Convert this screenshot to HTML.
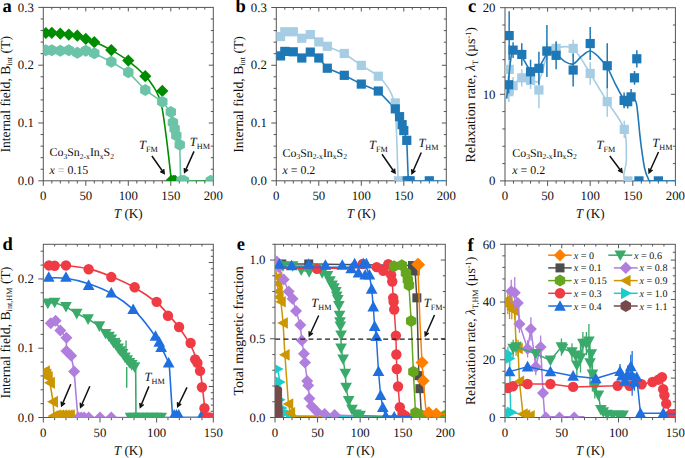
<!DOCTYPE html>
<html><head><meta charset="utf-8"><title>figure</title>
<style>
html,body{margin:0;padding:0;background:#fff;width:685px;height:458px;overflow:hidden}
svg{display:block;text-rendering:geometricPrecision}
.t{font-family:"Liberation Serif",serif;font-size:12.8px;fill:#111}
.L{font-family:"Liberation Serif",serif;font-weight:bold;font-size:18.5px;fill:#000}
</style></head><body>
<svg width="685" height="458" viewBox="0 0 685 458">
<defs><clipPath id="ca"><rect x="43.3" y="7.4" width="170" height="173.4"/></clipPath><clipPath id="cb"><rect x="276.3" y="7.5" width="170" height="173.3"/></clipPath><clipPath id="cc"><rect x="505" y="7.7" width="170.4" height="173.2"/></clipPath><clipPath id="cd"><rect x="43.3" y="244.3" width="170" height="173.2"/></clipPath><clipPath id="ce"><rect x="275" y="244.3" width="170.3" height="173.2"/></clipPath><clipPath id="cf"><rect x="505" y="244.3" width="170.3" height="173.2"/></clipPath></defs>
<rect width="685" height="458" fill="#fff"/>
<rect x="43.3" y="7.4" width="170" height="173.4" fill="none" stroke="#555" stroke-width="1"/><path d="M43.3,180.8v5M51.8,180.8v2.7M51.8,7.4v2.2M60.3,180.8v2.7M60.3,7.4v2.2M68.8,180.8v2.7M68.8,7.4v2.2M77.3,180.8v2.7M77.3,7.4v2.2M85.8,180.8v5M85.8,7.4v4M94.3,180.8v2.7M94.3,7.4v2.2M102.8,180.8v2.7M102.8,7.4v2.2M111.3,180.8v2.7M111.3,7.4v2.2M119.8,180.8v2.7M119.8,7.4v2.2M128.3,180.8v5M128.3,7.4v4M136.8,180.8v2.7M136.8,7.4v2.2M145.3,180.8v2.7M145.3,7.4v2.2M153.8,180.8v2.7M153.8,7.4v2.2M162.3,180.8v2.7M162.3,7.4v2.2M170.8,180.8v5M170.8,7.4v4M179.3,180.8v2.7M179.3,7.4v2.2M187.8,180.8v2.7M187.8,7.4v2.2M196.3,180.8v2.7M196.3,7.4v2.2M204.8,180.8v2.7M204.8,7.4v2.2M213.3,180.8v5M43.3,180.8h-5M43.3,169.24h-2.7M213.3,169.24h-2.5M43.3,157.68h-2.7M213.3,157.68h-2.5M43.3,146.12h-2.7M213.3,146.12h-2.5M43.3,134.56h-2.7M213.3,134.56h-2.5M43.3,123h-5M213.3,123h-4.5M43.3,111.44h-2.7M213.3,111.44h-2.5M43.3,99.88h-2.7M213.3,99.88h-2.5M43.3,88.32h-2.7M213.3,88.32h-2.5M43.3,76.76h-2.7M213.3,76.76h-2.5M43.3,65.2h-5M213.3,65.2h-4.5M43.3,53.64h-2.7M213.3,53.64h-2.5M43.3,42.08h-2.7M213.3,42.08h-2.5M43.3,30.52h-2.7M213.3,30.52h-2.5M43.3,18.96h-2.7M213.3,18.96h-2.5M43.3,7.4h-5" stroke="#555" stroke-width="1" fill="none"/><text x="43.3" y="200.2" text-anchor="middle" class="t">0</text><text x="85.8" y="200.2" text-anchor="middle" class="t">50</text><text x="128.3" y="200.2" text-anchor="middle" class="t">100</text><text x="170.8" y="200.2" text-anchor="middle" class="t">150</text><text x="213.3" y="200.2" text-anchor="middle" class="t">200</text><text x="33.8" y="185" text-anchor="end" class="t">0.0</text><text x="33.8" y="127.2" text-anchor="end" class="t">0.1</text><text x="33.8" y="69.4" text-anchor="end" class="t">0.2</text><text x="33.8" y="11.6" text-anchor="end" class="t">0.3</text><text x="128.3" y="218.3" text-anchor="middle" class="t" style="font-size:13.2px"><tspan font-style="italic">T</tspan> (K)</text><text transform="translate(9.8,94.3) rotate(-90)" text-anchor="middle" class="t" style="font-size:13.7px">Internal field, B<tspan style="font-size:8.2px" dy="2.6">int</tspan><tspan dy="-2.6"> (T)</tspan></text><text x="2.4" y="11.9" class="L">a</text><g clip-path="url(#ca)"><polyline points="45.85,50.17 51.8,50.17 60.3,50.75 68.8,50.17 77.3,52.77 85.8,50.75 94.3,53.35 111.3,61.73 128.3,72.14 145.3,90.05 162.3,101.79 170.8,112.02 172.93,122.42 174.62,128.78 176.32,135.43 179.73,144.68 180.66,180.8 213.3,180.8" fill="none" stroke="#6cc4a8" stroke-width="1.6" stroke-linejoin="round"/><path d="M45.85,32.54 C48.26,32.69 55.06,32.83 60.3,33.41 C65.54,33.99 71.63,34.61 77.3,36.01 C82.97,37.41 88.63,39.43 94.3,41.79 C99.97,44.15 105.63,46.99 111.3,50.17 C116.97,53.35 122.63,56.58 128.3,60.87 C133.97,65.15 141.05,71.51 145.3,75.89 C149.55,80.28 151.53,83.65 153.8,87.16 C156.07,90.68 157.48,93.33 158.9,96.99 C160.32,100.65 161.02,102.1 162.3,109.13 C163.57,116.16 165.15,128.2 166.55,139.18 C167.95,150.17 169.96,168.08 170.72,175.02 C171.47,181.96 163.96,179.84 171.06,180.8 C178.15,181.76 206.26,180.8 213.3,180.8" fill="none" stroke="#008c00" stroke-width="1.6"/><polygon points="45.85,26.91 51.95,33.01 45.85,39.11 39.75,33.01" fill="#008c00"/><polygon points="51.8,26.73 57.9,32.83 51.8,38.93 45.7,32.83" fill="#008c00"/><polygon points="60.3,27.6 66.4,33.7 60.3,39.8 54.2,33.7" fill="#008c00"/><polygon points="68.8,28.47 74.9,34.57 68.8,40.67 62.7,34.57" fill="#008c00"/><polygon points="77.3,29.62 83.4,35.72 77.3,41.82 71.2,35.72" fill="#008c00"/><polygon points="85.8,32.8 91.9,38.9 85.8,45 79.7,38.9" fill="#008c00"/><polygon points="94.3,36.1 100.4,42.2 94.3,48.3 88.2,42.2" fill="#008c00"/><polygon points="111.3,43.96 117.4,50.06 111.3,56.16 105.2,50.06" fill="#008c00"/><polygon points="128.3,54.48 134.4,60.58 128.3,66.68 122.2,60.58" fill="#008c00"/><polygon points="145.3,70.08 151.4,76.18 145.3,82.28 139.2,76.18" fill="#008c00"/><polygon points="162.3,84.82 168.4,90.92 162.3,97.02 156.2,90.92" fill="#008c00"/><polygon points="171.22,174.7 177.32,180.8 171.22,186.9 165.12,180.8" fill="#008c00"/><polygon points="173.35,174.7 179.45,180.8 173.35,186.9 167.25,180.8" fill="#008c00"/><polygon points="175.05,174.7 181.15,180.8 175.05,186.9 168.95,180.8" fill="#008c00"/><polygon points="45.85,44.17 40.65,47.17 40.65,53.17 45.85,56.17 51.05,53.17 51.05,47.17" fill="#6cc4a8"/><polygon points="51.8,44.17 46.6,47.17 46.6,53.17 51.8,56.17 57,53.17 57,47.17" fill="#6cc4a8"/><polygon points="60.3,44.75 55.1,47.75 55.1,53.75 60.3,56.75 65.5,53.75 65.5,47.75" fill="#6cc4a8"/><polygon points="68.8,44.17 63.6,47.17 63.6,53.17 68.8,56.17 74,53.17 74,47.17" fill="#6cc4a8"/><polygon points="77.3,46.77 72.1,49.77 72.1,55.77 77.3,58.77 82.5,55.77 82.5,49.77" fill="#6cc4a8"/><polygon points="85.8,44.75 80.6,47.75 80.6,53.75 85.8,56.75 91,53.75 91,47.75" fill="#6cc4a8"/><polygon points="94.3,47.35 89.1,50.35 89.1,56.35 94.3,59.35 99.5,56.35 99.5,50.35" fill="#6cc4a8"/><polygon points="111.3,55.73 106.1,58.73 106.1,64.73 111.3,67.73 116.5,64.73 116.5,58.73" fill="#6cc4a8"/><polygon points="128.3,66.14 123.1,69.14 123.1,75.14 128.3,78.14 133.5,75.14 133.5,69.14" fill="#6cc4a8"/><polygon points="145.3,84.05 140.1,87.05 140.1,93.05 145.3,96.05 150.5,93.05 150.5,87.05" fill="#6cc4a8"/><polygon points="162.3,95.79 157.1,98.79 157.1,104.79 162.3,107.79 167.5,104.79 167.5,98.79" fill="#6cc4a8"/><polygon points="170.8,106.02 165.6,109.02 165.6,115.02 170.8,118.02 176,115.02 176,109.02" fill="#6cc4a8"/><polygon points="172.93,116.42 167.73,119.42 167.73,125.42 172.93,128.42 178.12,125.42 178.12,119.42" fill="#6cc4a8"/><polygon points="174.62,122.78 169.43,125.78 169.43,131.78 174.62,134.78 179.82,131.78 179.82,125.78" fill="#6cc4a8"/><polygon points="176.32,129.43 171.13,132.43 171.13,138.43 176.32,141.43 181.52,138.43 181.52,132.43" fill="#6cc4a8"/><polygon points="179.73,138.68 174.53,141.68 174.53,147.68 179.73,150.68 184.92,147.68 184.92,141.68" fill="#6cc4a8"/><polygon points="181.43,174.8 176.23,177.8 176.23,183.8 181.43,186.8 186.62,183.8 186.62,177.8" fill="#6cc4a8"/><polygon points="183.98,174.8 178.78,177.8 178.78,183.8 183.98,186.8 189.17,183.8 189.17,177.8" fill="#6cc4a8"/><polygon points="210.75,174.8 205.55,177.8 205.55,183.8 210.75,186.8 215.95,183.8 215.95,177.8" fill="#6cc4a8"/></g><text x="49.5" y="156.1" class="t" style="font-size:11.9px">Co<tspan style="font-size:7.6px" dy="2.6">3</tspan><tspan dy="-2.6">Sn</tspan><tspan style="font-size:7.6px" dy="2.6">2-x</tspan><tspan dy="-2.6">In</tspan><tspan style="font-size:7.6px" dy="2.6">x</tspan><tspan dy="-2.6">S</tspan><tspan style="font-size:7.6px" dy="2.6">2</tspan></text><text x="49.5" y="173.9" class="t" style="font-size:11.9px"><tspan font-style="italic">x</tspan> <tspan fill="#b0b0b0">=</tspan> 0.15</text><text x="139" y="148.8" class="t" style="font-size:12.5px"><tspan font-style="italic">T</tspan><tspan style="font-size:8.2px" dy="2.8">FM</tspan></text><text x="189.8" y="146.1" class="t" style="font-size:12.5px"><tspan font-style="italic">T</tspan><tspan style="font-size:8.2px" dy="2.8">HM</tspan></text><path d="M151.9,156L164.2,173.5M160.28,171.51L164.2,173.5L163.66,169.13" stroke="#111" stroke-width="1.5" fill="none" stroke-linecap="butt" stroke-linejoin="miter"/><path d="M194,151.4L184.6,172.4M184.3,168.01L184.6,172.4L188.07,169.7" stroke="#111" stroke-width="1.5" fill="none" stroke-linecap="butt" stroke-linejoin="miter"/>
<rect x="276.3" y="7.5" width="170" height="173.3" fill="none" stroke="#555" stroke-width="1"/><path d="M276.3,180.8v5M284.8,180.8v2.7M284.8,7.5v2.2M293.3,180.8v2.7M293.3,7.5v2.2M301.8,180.8v2.7M301.8,7.5v2.2M310.3,180.8v2.7M310.3,7.5v2.2M318.8,180.8v5M318.8,7.5v4M327.3,180.8v2.7M327.3,7.5v2.2M335.8,180.8v2.7M335.8,7.5v2.2M344.3,180.8v2.7M344.3,7.5v2.2M352.8,180.8v2.7M352.8,7.5v2.2M361.3,180.8v5M361.3,7.5v4M369.8,180.8v2.7M369.8,7.5v2.2M378.3,180.8v2.7M378.3,7.5v2.2M386.8,180.8v2.7M386.8,7.5v2.2M395.3,180.8v2.7M395.3,7.5v2.2M403.8,180.8v5M403.8,7.5v4M412.3,180.8v2.7M412.3,7.5v2.2M420.8,180.8v2.7M420.8,7.5v2.2M429.3,180.8v2.7M429.3,7.5v2.2M437.8,180.8v2.7M437.8,7.5v2.2M446.3,180.8v5M276.3,180.8h-5M276.3,169.25h-2.7M446.3,169.25h-2.5M276.3,157.69h-2.7M446.3,157.69h-2.5M276.3,146.14h-2.7M446.3,146.14h-2.5M276.3,134.59h-2.7M446.3,134.59h-2.5M276.3,123.03h-5M446.3,123.03h-4.5M276.3,111.48h-2.7M446.3,111.48h-2.5M276.3,99.93h-2.7M446.3,99.93h-2.5M276.3,88.37h-2.7M446.3,88.37h-2.5M276.3,76.82h-2.7M446.3,76.82h-2.5M276.3,65.27h-5M446.3,65.27h-4.5M276.3,53.71h-2.7M446.3,53.71h-2.5M276.3,42.16h-2.7M446.3,42.16h-2.5M276.3,30.61h-2.7M446.3,30.61h-2.5M276.3,19.05h-2.7M446.3,19.05h-2.5M276.3,7.5h-5" stroke="#555" stroke-width="1" fill="none"/><text x="276.3" y="200.2" text-anchor="middle" class="t">0</text><text x="318.8" y="200.2" text-anchor="middle" class="t">50</text><text x="361.3" y="200.2" text-anchor="middle" class="t">100</text><text x="403.8" y="200.2" text-anchor="middle" class="t">150</text><text x="446.3" y="200.2" text-anchor="middle" class="t">200</text><text x="266.8" y="185" text-anchor="end" class="t">0.0</text><text x="266.8" y="127.23" text-anchor="end" class="t">0.1</text><text x="266.8" y="69.47" text-anchor="end" class="t">0.2</text><text x="266.8" y="11.7" text-anchor="end" class="t">0.3</text><text x="361.3" y="218.3" text-anchor="middle" class="t" style="font-size:13.2px"><tspan font-style="italic">T</tspan> (K)</text><text transform="translate(242.5,94.4) rotate(-90)" text-anchor="middle" class="t" style="font-size:13.7px">Internal field, B<tspan style="font-size:8.2px" dy="2.6">int</tspan><tspan dy="-2.6"> (T)</tspan></text><text x="235.6" y="12.3" class="L">b</text><g clip-path="url(#cb)"><polyline points="280.55,36.56 284.8,31.76 293.3,31.76 301.8,38.23 310.3,34.59 318.8,41.93 327.3,46.32 344.3,53.48 361.3,65.38" fill="none" stroke="#a6cde3" stroke-width="1.6" stroke-linejoin="round"/><path d="M361.3,65.38 C364.13,67.19 373.77,72.41 378.3,76.24 C382.83,80.07 385.95,84.43 388.5,88.37 C391.05,92.32 392.4,95.11 393.6,99.93 C394.8,104.74 395.16,109.55 395.73,117.26 C396.29,124.96 396.6,135.55 397,146.14 C397.4,156.73 397.82,175.02 398.11,180.8 C398.39,186.58 398.6,180.8 398.7,180.8" fill="none" stroke="#a6cde3" stroke-width="1.6"/><polyline points="398.28,180.8 446.3,180.8" fill="none" stroke="#a6cde3" stroke-width="1.6" stroke-linejoin="round"/><polyline points="280.55,55.91 284.8,51.4 293.3,51.81 301.8,57.99 310.3,52.1 318.8,57.99 327.3,68.21 344.3,75.32 361.3,84.1 378.3,91.03 395.3,108.88 399.55,116.68 402.1,124.65 403.8,130.54 406.77,140.36 408.31,180.8 446.3,180.8" fill="none" stroke="#1f78b6" stroke-width="1.6" stroke-linejoin="round"/><rect x="275.95" y="31.96" width="9.2" height="9.2" fill="#a6cde3"/><rect x="280.2" y="27.16" width="9.2" height="9.2" fill="#a6cde3"/><rect x="288.7" y="27.16" width="9.2" height="9.2" fill="#a6cde3"/><rect x="297.2" y="33.63" width="9.2" height="9.2" fill="#a6cde3"/><rect x="305.7" y="29.99" width="9.2" height="9.2" fill="#a6cde3"/><rect x="314.2" y="37.33" width="9.2" height="9.2" fill="#a6cde3"/><rect x="322.7" y="41.72" width="9.2" height="9.2" fill="#a6cde3"/><rect x="339.7" y="48.88" width="9.2" height="9.2" fill="#a6cde3"/><rect x="356.7" y="60.78" width="9.2" height="9.2" fill="#a6cde3"/><rect x="373.7" y="71.64" width="9.2" height="9.2" fill="#a6cde3"/><rect x="390.7" y="98.33" width="9.2" height="9.2" fill="#a6cde3"/><rect x="393.84" y="176.2" width="9.2" height="9.2" fill="#a6cde3"/><rect x="275.95" y="51.31" width="9.2" height="9.2" fill="#1f78b6"/><rect x="280.2" y="46.8" width="9.2" height="9.2" fill="#1f78b6"/><rect x="288.7" y="47.21" width="9.2" height="9.2" fill="#1f78b6"/><rect x="297.2" y="53.39" width="9.2" height="9.2" fill="#1f78b6"/><rect x="305.7" y="47.5" width="9.2" height="9.2" fill="#1f78b6"/><rect x="314.2" y="53.39" width="9.2" height="9.2" fill="#1f78b6"/><rect x="322.7" y="63.61" width="9.2" height="9.2" fill="#1f78b6"/><rect x="339.7" y="70.72" width="9.2" height="9.2" fill="#1f78b6"/><rect x="356.7" y="79.5" width="9.2" height="9.2" fill="#1f78b6"/><rect x="373.7" y="86.43" width="9.2" height="9.2" fill="#1f78b6"/><rect x="390.7" y="104.28" width="9.2" height="9.2" fill="#1f78b6"/><rect x="394.95" y="112.08" width="9.2" height="9.2" fill="#1f78b6"/><rect x="397.5" y="120.05" width="9.2" height="9.2" fill="#1f78b6"/><rect x="399.2" y="125.94" width="9.2" height="9.2" fill="#1f78b6"/><rect x="402.17" y="135.76" width="9.2" height="9.2" fill="#1f78b6"/><rect x="402.6" y="176.2" width="9.2" height="9.2" fill="#1f78b6"/><rect x="405.57" y="176.2" width="9.2" height="9.2" fill="#1f78b6"/><rect x="424.7" y="176.2" width="9.2" height="9.2" fill="#1f78b6"/></g><text x="282.5" y="156.5" class="t" style="font-size:11.9px">Co<tspan style="font-size:7.6px" dy="2.6">3</tspan><tspan dy="-2.6">Sn</tspan><tspan style="font-size:7.6px" dy="2.6">2-x</tspan><tspan dy="-2.6">In</tspan><tspan style="font-size:7.6px" dy="2.6">x</tspan><tspan dy="-2.6">S</tspan><tspan style="font-size:7.6px" dy="2.6">2</tspan></text><text x="282.5" y="174.3" class="t" style="font-size:11.9px"><tspan font-style="italic">x</tspan> = 0.2</text><text x="369.1" y="148.8" class="t" style="font-size:12.5px"><tspan font-style="italic">T</tspan><tspan style="font-size:8.2px" dy="2.8">FM</tspan></text><text x="418.4" y="147.3" class="t" style="font-size:12.5px"><tspan font-style="italic">T</tspan><tspan style="font-size:8.2px" dy="2.8">HM</tspan></text><path d="M382,154.3L395,173M391.09,170.99L395,173L394.48,168.63" stroke="#111" stroke-width="1.5" fill="none" stroke-linecap="butt" stroke-linejoin="miter"/><path d="M421.3,152.5L412,173.5M411.68,169.11L412,173.5L415.46,170.78" stroke="#111" stroke-width="1.5" fill="none" stroke-linecap="butt" stroke-linejoin="miter"/>
<rect x="505" y="7.7" width="170.4" height="173.2" fill="none" stroke="#555" stroke-width="1"/><path d="M505,180.9v5M513.52,180.9v2.7M513.52,7.7v2.2M522.04,180.9v2.7M522.04,7.7v2.2M530.56,180.9v2.7M530.56,7.7v2.2M539.08,180.9v2.7M539.08,7.7v2.2M547.6,180.9v5M547.6,7.7v4M556.12,180.9v2.7M556.12,7.7v2.2M564.64,180.9v2.7M564.64,7.7v2.2M573.16,180.9v2.7M573.16,7.7v2.2M581.68,180.9v2.7M581.68,7.7v2.2M590.2,180.9v5M590.2,7.7v4M598.72,180.9v2.7M598.72,7.7v2.2M607.24,180.9v2.7M607.24,7.7v2.2M615.76,180.9v2.7M615.76,7.7v2.2M624.28,180.9v2.7M624.28,7.7v2.2M632.8,180.9v5M632.8,7.7v4M641.32,180.9v2.7M641.32,7.7v2.2M649.84,180.9v2.7M649.84,7.7v2.2M658.36,180.9v2.7M658.36,7.7v2.2M666.88,180.9v2.7M666.88,7.7v2.2M675.4,180.9v5M505,180.9h-5M505,163.58h-2.7M675.4,163.58h-2.5M505,146.26h-2.7M675.4,146.26h-2.5M505,128.94h-2.7M675.4,128.94h-2.5M505,111.62h-2.7M675.4,111.62h-2.5M505,94.3h-5M675.4,94.3h-4.5M505,76.98h-2.7M675.4,76.98h-2.5M505,59.66h-2.7M675.4,59.66h-2.5M505,42.34h-2.7M675.4,42.34h-2.5M505,25.02h-2.7M675.4,25.02h-2.5M505,7.7h-5" stroke="#555" stroke-width="1" fill="none"/><text x="505" y="200.3" text-anchor="middle" class="t">0</text><text x="547.6" y="200.3" text-anchor="middle" class="t">50</text><text x="590.2" y="200.3" text-anchor="middle" class="t">100</text><text x="632.8" y="200.3" text-anchor="middle" class="t">150</text><text x="675.4" y="200.3" text-anchor="middle" class="t">200</text><text x="495.5" y="185.1" text-anchor="end" class="t">0</text><text x="495.5" y="98.5" text-anchor="end" class="t">10</text><text x="495.5" y="11.9" text-anchor="end" class="t">20</text><text x="590.2" y="218.4" text-anchor="middle" class="t" style="font-size:13.2px"><tspan font-style="italic">T</tspan> (K)</text><text transform="translate(475,94.75) rotate(-90)" text-anchor="middle" class="t" style="font-size:13.9px">Relaxation rate, <tspan font-style="italic">λ</tspan><tspan style="font-size:8.2px" dy="2.6">T</tspan><tspan dy="-2.6"> (µs</tspan><tspan style="font-size:8.2px" dy="-4.5">-1</tspan><tspan dy="4.5">)</tspan></text><text x="467.9" y="11.9" class="L">c</text><g clip-path="url(#cc)"><path d="M506.7,96.03 C507.13,95.31 508.12,93.58 509.26,91.7 C510.4,89.83 511.39,87.08 513.52,84.77 C515.65,82.46 519.2,78.86 522.04,77.85 C524.88,76.84 527.72,78.28 530.56,78.71 C533.4,79.14 536.24,84.49 539.08,80.44 C541.92,76.4 544.76,59.8 547.6,54.46 C550.44,49.12 553.28,49.7 556.12,48.4 C558.96,47.1 561.8,46.67 564.64,46.67 C567.48,46.67 570.32,46.24 573.16,48.4 C576,50.57 578.84,55.47 581.68,59.66 C584.52,63.85 585.94,66.52 590.2,73.52 C594.46,80.52 601.56,92.35 607.24,101.66 C612.92,110.97 621.09,119.77 624.28,129.37 C627.47,138.97 625.84,150.66 626.41,159.25 C626.98,167.84 619.52,177.29 627.69,180.9 C635.85,184.51 667.45,180.9 675.4,180.9" fill="none" stroke="#a6cde3" stroke-width="1.6"/><line x1="509.26" y1="79.75" x2="509.26" y2="58.97" stroke="#a6cde3" stroke-width="1.5"/><line x1="508.83" y1="102.09" x2="508.83" y2="81.31" stroke="#a6cde3" stroke-width="1.5"/><line x1="513.09" y1="94.3" x2="513.09" y2="76.98" stroke="#a6cde3" stroke-width="1.5"/><line x1="521.78" y1="86.51" x2="521.78" y2="69.19" stroke="#a6cde3" stroke-width="1.5"/><line x1="530.56" y1="89.1" x2="530.56" y2="71.78" stroke="#a6cde3" stroke-width="1.5"/><line x1="538.91" y1="108.16" x2="538.91" y2="71.78" stroke="#a6cde3" stroke-width="1.5"/><line x1="546.92" y1="60.09" x2="546.92" y2="42.77" stroke="#a6cde3" stroke-width="1.5"/><line x1="556.12" y1="55.33" x2="556.12" y2="41.47" stroke="#a6cde3" stroke-width="1.5"/><line x1="573.16" y1="57.06" x2="573.16" y2="39.74" stroke="#a6cde3" stroke-width="1.5"/><line x1="590.2" y1="84.77" x2="590.2" y2="62.26" stroke="#a6cde3" stroke-width="1.5"/><line x1="607.24" y1="116.82" x2="607.24" y2="86.51" stroke="#a6cde3" stroke-width="1.5"/><line x1="624.28" y1="138.03" x2="624.28" y2="120.71" stroke="#a6cde3" stroke-width="1.5"/><rect x="504.66" y="64.76" width="9.2" height="9.2" fill="#a6cde3"/><rect x="504.23" y="87.1" width="9.2" height="9.2" fill="#a6cde3"/><rect x="508.49" y="81.04" width="9.2" height="9.2" fill="#a6cde3"/><rect x="517.18" y="73.25" width="9.2" height="9.2" fill="#a6cde3"/><rect x="525.96" y="75.84" width="9.2" height="9.2" fill="#a6cde3"/><rect x="534.31" y="85.37" width="9.2" height="9.2" fill="#a6cde3"/><rect x="542.32" y="46.83" width="9.2" height="9.2" fill="#a6cde3"/><rect x="551.52" y="43.8" width="9.2" height="9.2" fill="#a6cde3"/><rect x="568.56" y="43.8" width="9.2" height="9.2" fill="#a6cde3"/><rect x="585.6" y="68.92" width="9.2" height="9.2" fill="#a6cde3"/><rect x="602.64" y="97.06" width="9.2" height="9.2" fill="#a6cde3"/><rect x="619.68" y="124.77" width="9.2" height="9.2" fill="#a6cde3"/><rect x="623.34" y="176.3" width="9.2" height="9.2" fill="#a6cde3"/><path d="M506.7,98.63 C507.13,94.3 508.41,80.3 509.26,72.65 C510.11,65 510.82,56.63 511.82,52.73 C512.81,48.84 513.52,48.55 515.22,49.27 C516.93,49.99 519.48,53.6 522.04,57.06 C524.6,60.53 527.72,68.46 530.56,70.05 C533.4,71.64 536.24,69.33 539.08,66.59 C541.92,63.85 544.76,55.62 547.6,53.6 C550.44,51.58 553.28,53.16 556.12,54.46 C558.96,55.76 561.8,59.8 564.64,61.39 C567.48,62.98 570.32,64.86 573.16,63.99 C576,63.12 578.84,58.36 581.68,56.2 C584.52,54.03 587.36,50.86 590.2,51 C593.04,51.14 595.88,54.32 598.72,57.06 C601.56,59.8 604.4,62.84 607.24,67.45 C610.08,72.07 612.92,79.43 615.76,84.77 C618.6,90.11 621.72,96.97 624.28,99.5 C626.84,102.02 629.18,99.64 631.1,99.93 C633.01,100.22 634.65,98.7 635.78,101.23 C636.92,103.75 637.27,109.89 637.91,115.08 C638.55,120.28 639.05,127.06 639.62,132.4 C640.18,137.74 640.47,141.06 641.32,147.13 C642.17,153.19 643.59,163.58 644.73,168.78 C645.86,173.97 647,176.28 648.14,178.3 C649.27,180.32 647,180.47 651.54,180.9 C656.09,181.33 671.42,180.9 675.4,180.9" fill="none" stroke="#1f78b6" stroke-width="1.6"/><line x1="509.17" y1="59.83" x2="509.17" y2="11.34" stroke="#1f78b6" stroke-width="1.5"/><line x1="508.66" y1="93.43" x2="508.66" y2="76.11" stroke="#1f78b6" stroke-width="1.5"/><line x1="513.09" y1="57.93" x2="513.09" y2="42.34" stroke="#1f78b6" stroke-width="1.5"/><line x1="521.78" y1="65.72" x2="521.78" y2="43.21" stroke="#1f78b6" stroke-width="1.5"/><line x1="530.56" y1="83.91" x2="530.56" y2="59.66" stroke="#1f78b6" stroke-width="1.5"/><line x1="538.91" y1="84.77" x2="538.91" y2="51.87" stroke="#1f78b6" stroke-width="1.5"/><line x1="546.92" y1="76.98" x2="546.92" y2="25.02" stroke="#1f78b6" stroke-width="1.5"/><line x1="556.12" y1="69.19" x2="556.12" y2="41.47" stroke="#1f78b6" stroke-width="1.5"/><line x1="573.16" y1="86.51" x2="573.16" y2="53.6" stroke="#1f78b6" stroke-width="1.5"/><line x1="590.2" y1="60.01" x2="590.2" y2="27.1" stroke="#1f78b6" stroke-width="1.5"/><line x1="607.24" y1="88.24" x2="607.24" y2="43.21" stroke="#1f78b6" stroke-width="1.5"/><line x1="624.11" y1="108.16" x2="624.11" y2="92.57" stroke="#1f78b6" stroke-width="1.5"/><line x1="627.69" y1="108.59" x2="627.69" y2="94.73" stroke="#1f78b6" stroke-width="1.5"/><line x1="631.1" y1="104.69" x2="631.1" y2="89.1" stroke="#1f78b6" stroke-width="1.5"/><line x1="634.5" y1="84.77" x2="634.5" y2="70.92" stroke="#1f78b6" stroke-width="1.5"/><line x1="636.8" y1="67.45" x2="636.8" y2="50.13" stroke="#1f78b6" stroke-width="1.5"/><rect x="504.57" y="30.99" width="9.2" height="9.2" fill="#1f78b6"/><rect x="504.06" y="80.17" width="9.2" height="9.2" fill="#1f78b6"/><rect x="508.49" y="45.53" width="9.2" height="9.2" fill="#1f78b6"/><rect x="517.18" y="49.86" width="9.2" height="9.2" fill="#1f78b6"/><rect x="525.96" y="67.18" width="9.2" height="9.2" fill="#1f78b6"/><rect x="534.31" y="63.72" width="9.2" height="9.2" fill="#1f78b6"/><rect x="542.32" y="46.4" width="9.2" height="9.2" fill="#1f78b6"/><rect x="551.52" y="50.73" width="9.2" height="9.2" fill="#1f78b6"/><rect x="568.56" y="65.45" width="9.2" height="9.2" fill="#1f78b6"/><rect x="585.6" y="38.95" width="9.2" height="9.2" fill="#1f78b6"/><rect x="602.64" y="61.12" width="9.2" height="9.2" fill="#1f78b6"/><rect x="619.51" y="95.76" width="9.2" height="9.2" fill="#1f78b6"/><rect x="623.09" y="97.06" width="9.2" height="9.2" fill="#1f78b6"/><rect x="626.5" y="92.3" width="9.2" height="9.2" fill="#1f78b6"/><rect x="629.9" y="73.25" width="9.2" height="9.2" fill="#1f78b6"/><rect x="632.2" y="54.19" width="9.2" height="9.2" fill="#1f78b6"/><rect x="634.33" y="176.3" width="9.2" height="9.2" fill="#1f78b6"/><rect x="653.76" y="176.3" width="9.2" height="9.2" fill="#1f78b6"/></g><text x="512.3" y="156.6" class="t" style="font-size:11.9px">Co<tspan style="font-size:7.6px" dy="2.6">3</tspan><tspan dy="-2.6">Sn</tspan><tspan style="font-size:7.6px" dy="2.6">2-x</tspan><tspan dy="-2.6">In</tspan><tspan style="font-size:7.6px" dy="2.6">x</tspan><tspan dy="-2.6">S</tspan><tspan style="font-size:7.6px" dy="2.6">2</tspan></text><text x="512.3" y="174.4" class="t" style="font-size:11.9px"><tspan font-style="italic">x</tspan> = 0.2</text><text x="596.5" y="148.8" class="t" style="font-size:12.5px"><tspan font-style="italic">T</tspan><tspan style="font-size:8.2px" dy="2.8">FM</tspan></text><text x="652.3" y="146.8" class="t" style="font-size:12.5px"><tspan font-style="italic">T</tspan><tspan style="font-size:8.2px" dy="2.8">HM</tspan></text><path d="M609.8,156L622,172.3M618.02,170.43L622,172.3L621.33,167.95" stroke="#111" stroke-width="1.5" fill="none" stroke-linecap="butt" stroke-linejoin="miter"/><path d="M658.5,152L649.1,172.7M648.83,168.31L649.1,172.7L652.59,170.02" stroke="#111" stroke-width="1.5" fill="none" stroke-linecap="butt" stroke-linejoin="miter"/>
<rect x="43.3" y="244.3" width="170" height="173.2" fill="none" stroke="#555" stroke-width="1"/><path d="M43.3,417.5v5M54.63,417.5v2.7M54.63,244.3v2.2M65.97,417.5v2.7M65.97,244.3v2.2M77.3,417.5v2.7M77.3,244.3v2.2M88.63,417.5v2.7M88.63,244.3v2.2M99.97,417.5v5M99.97,244.3v4M111.3,417.5v2.7M111.3,244.3v2.2M122.63,417.5v2.7M122.63,244.3v2.2M133.97,417.5v2.7M133.97,244.3v2.2M145.3,417.5v2.7M145.3,244.3v2.2M156.63,417.5v5M156.63,244.3v4M167.97,417.5v2.7M167.97,244.3v2.2M179.3,417.5v2.7M179.3,244.3v2.2M190.63,417.5v2.7M190.63,244.3v2.2M201.97,417.5v2.7M201.97,244.3v2.2M213.3,417.5v5M43.3,417.5h-5M43.3,403.64h-2.7M43.3,389.79h-2.7M43.3,375.93h-2.7M43.3,362.08h-2.7M43.3,348.22h-5M43.3,334.36h-2.7M43.3,320.51h-2.7M43.3,306.65h-2.7M43.3,292.8h-2.7M43.3,278.94h-5M43.3,265.08h-2.7M43.3,251.23h-2.7M213.3,411.3h-2.5M213.3,405.1h-2.5M213.3,398.9h-2.5M213.3,392.7h-2.5M213.3,386.5h-4.5M213.3,380.3h-2.5M213.3,374.1h-2.5M213.3,367.9h-2.5M213.3,361.7h-2.5M213.3,355.5h-4.5M213.3,349.3h-2.5M213.3,343.1h-2.5M213.3,336.9h-2.5M213.3,330.7h-2.5M213.3,324.5h-4.5M213.3,318.3h-2.5M213.3,312.1h-2.5M213.3,305.9h-2.5M213.3,299.7h-2.5M213.3,293.5h-4.5M213.3,287.3h-2.5M213.3,281.1h-2.5M213.3,274.9h-2.5M213.3,268.7h-2.5M213.3,262.5h-4.5M213.3,256.3h-2.5M213.3,250.1h-2.5" stroke="#555" stroke-width="1" fill="none"/><text x="43.3" y="436.9" text-anchor="middle" class="t">0</text><text x="99.97" y="436.9" text-anchor="middle" class="t">50</text><text x="156.63" y="436.9" text-anchor="middle" class="t">100</text><text x="213.3" y="436.9" text-anchor="middle" class="t">150</text><text x="33.8" y="421.7" text-anchor="end" class="t">0.0</text><text x="33.8" y="352.42" text-anchor="end" class="t">0.1</text><text x="33.8" y="283.14" text-anchor="end" class="t">0.2</text><text x="128.3" y="455" text-anchor="middle" class="t" style="font-size:13.2px"><tspan font-style="italic">T</tspan> (K)</text><text transform="translate(9.8,332.5) rotate(-90)" text-anchor="middle" class="t" style="font-size:13.7px">Internal field, B<tspan style="font-size:8.2px" dy="2.6">int,HM</tspan><tspan dy="-2.6"> (T)</tspan></text><text x="2.4" y="250.1" class="L">d</text><g clip-path="url(#cd)"><path d="M46.7,265.22 C49.91,265.26 58.98,264.82 65.97,265.43 C72.96,266.04 81.08,267.05 88.63,268.89 C96.19,270.74 103.74,273.46 111.3,276.52 C118.86,279.58 126.41,282.92 133.97,287.25 C141.52,291.58 150.97,297.99 156.63,302.5 C162.3,307 164.19,310.06 167.97,314.27 C171.74,318.49 175.52,322.59 179.3,327.78 C183.08,332.98 187.8,340.31 190.63,345.45 C193.47,350.59 194.69,354.22 196.3,358.61 C197.91,363 199.23,366.81 200.27,371.78 C201.31,376.74 201.78,382.4 202.53,388.4 C203.29,394.41 204.14,402.95 204.8,407.8 C205.46,412.65 205.08,415.88 206.5,417.5 C207.92,419.12 212.17,417.5 213.3,417.5" fill="none" stroke="#ef3c44" stroke-width="1.6"/><path d="M46.7,277.9 C49.91,277.96 58.98,277.27 65.97,278.25 C72.96,279.23 81.08,281.25 88.63,283.79 C96.19,286.33 103.74,289.1 111.3,293.49 C118.86,297.88 127.36,304 133.97,310.12 C140.58,316.24 146.43,324.03 150.97,330.21 C155.5,336.38 158.22,341.75 161.17,347.18 C164.11,352.61 167.4,360.17 168.65,362.77" fill="none" stroke="#1f6fdf" stroke-width="1.6"/><polyline points="168.65,362.77 169.33,365.54 172.61,417.5 213.3,417.5" fill="none" stroke="#1f6fdf" stroke-width="1.6" stroke-linejoin="round"/><polyline points="47.83,303.33 54.63,302.5 65.97,306.65 76.73,313.58 88.07,319.12 99.4,326.05 105.63,333.67 109.03,336.44 111.3,339.21 113.57,342.68 115.83,344.76 118.1,348.22 120.37,350.99 122.63,353.76 124.9,357.23 127.17,360 129.43,362.77 131.7,364.85 134.53,366.93 135.67,369 136.01,417.5 213.3,417.5" fill="none" stroke="#3aaa6a" stroke-width="1.6" stroke-linejoin="round"/><line x1="126.03" y1="358.61" x2="126.03" y2="340.6" stroke="#3aaa6a" stroke-width="1.4"/><line x1="126.71" y1="387.71" x2="126.71" y2="366.93" stroke="#3aaa6a" stroke-width="1.4"/><line x1="119.23" y1="354.46" x2="119.23" y2="337.83" stroke="#3aaa6a" stroke-width="1.4"/><polyline points="50.78,323.28 55.65,320.79 60.3,330.42 66.42,337.83 66.42,350.99 71.18,355.84 74.13,371.5 77.87,417.5 213.3,417.5" fill="none" stroke="#b07edd" stroke-width="1.6" stroke-linejoin="round"/><polyline points="45,371.22 46.47,374.55 47.83,377.32 49.99,382.86 53.05,401.7 54.18,417.5 77.3,417.5" fill="none" stroke="#cc9600" stroke-width="1.6" stroke-linejoin="round"/><polygon points="38.95,371.22 49.95,365.17 49.95,377.27" fill="#cc9600"/><polygon points="40.42,374.55 51.42,368.5 51.42,380.6" fill="#cc9600"/><polygon points="41.78,377.32 52.78,371.27 52.78,383.37" fill="#cc9600"/><polygon points="43.94,382.86 54.94,376.81 54.94,388.91" fill="#cc9600"/><polygon points="47,401.7 58,395.65 58,407.75" fill="#cc9600"/><polygon points="47.45,416.11 58.45,410.06 58.45,422.16" fill="#cc9600"/><polygon points="50.28,415.42 61.28,409.37 61.28,421.47" fill="#cc9600"/><polygon points="53.12,415.42 64.12,409.37 64.12,421.47" fill="#cc9600"/><polygon points="55.95,415.42 66.95,409.37 66.95,421.47" fill="#cc9600"/><polygon points="58.78,415.42 69.78,409.37 69.78,421.47" fill="#cc9600"/><polygon points="61.62,415.42 72.62,409.37 72.62,421.47" fill="#cc9600"/><polygon points="63.88,415.42 74.88,409.37 74.88,421.47" fill="#cc9600"/><polygon points="50.78,317.28 56.78,323.28 50.78,329.28 44.78,323.28" fill="#b07edd"/><polygon points="55.65,314.79 61.65,320.79 55.65,326.79 49.65,320.79" fill="#b07edd"/><polygon points="60.3,324.42 66.3,330.42 60.3,336.42 54.3,330.42" fill="#b07edd"/><polygon points="66.42,331.83 72.42,337.83 66.42,343.83 60.42,337.83" fill="#b07edd"/><polygon points="66.42,344.99 72.42,350.99 66.42,356.99 60.42,350.99" fill="#b07edd"/><polygon points="71.18,349.84 77.18,355.84 71.18,361.84 65.18,355.84" fill="#b07edd"/><polygon points="74.13,365.5 80.13,371.5 74.13,377.5 68.13,371.5" fill="#b07edd"/><polygon points="78.43,411.5 84.43,417.5 78.43,423.5 72.43,417.5" fill="#b07edd"/><polygon points="81.27,411.5 87.27,417.5 81.27,423.5 75.27,417.5" fill="#b07edd"/><polygon points="84.1,411.5 90.1,417.5 84.1,423.5 78.1,417.5" fill="#b07edd"/><polygon points="88.63,411.5 94.63,417.5 88.63,423.5 82.63,417.5" fill="#b07edd"/><polygon points="99.97,411.5 105.97,417.5 99.97,423.5 93.97,417.5" fill="#b07edd"/><polygon points="111.3,411.5 117.3,417.5 111.3,423.5 105.3,417.5" fill="#b07edd"/><polygon points="47.83,309.16 53.66,298.56 42,298.56" fill="#3aaa6a"/><polygon points="54.63,308.33 60.46,297.73 48.8,297.73" fill="#3aaa6a"/><polygon points="65.97,312.48 71.8,301.88 60.14,301.88" fill="#3aaa6a"/><polygon points="76.73,319.41 82.56,308.81 70.9,308.81" fill="#3aaa6a"/><polygon points="88.07,324.95 93.9,314.35 82.24,314.35" fill="#3aaa6a"/><polygon points="99.4,331.88 105.23,321.28 93.57,321.28" fill="#3aaa6a"/><polygon points="105.63,339.5 111.46,328.9 99.8,328.9" fill="#3aaa6a"/><polygon points="109.03,342.27 114.86,331.67 103.2,331.67" fill="#3aaa6a"/><polygon points="111.3,345.04 117.13,334.44 105.47,334.44" fill="#3aaa6a"/><polygon points="113.57,348.51 119.4,337.91 107.74,337.91" fill="#3aaa6a"/><polygon points="115.83,350.59 121.66,339.99 110,339.99" fill="#3aaa6a"/><polygon points="118.1,354.05 123.93,343.45 112.27,343.45" fill="#3aaa6a"/><polygon points="120.37,356.82 126.2,346.22 114.54,346.22" fill="#3aaa6a"/><polygon points="122.63,359.59 128.46,348.99 116.8,348.99" fill="#3aaa6a"/><polygon points="124.9,363.06 130.73,352.46 119.07,352.46" fill="#3aaa6a"/><polygon points="127.17,365.83 133,355.23 121.34,355.23" fill="#3aaa6a"/><polygon points="129.43,368.6 135.26,358 123.6,358" fill="#3aaa6a"/><polygon points="131.7,370.68 137.53,360.08 125.87,360.08" fill="#3aaa6a"/><polygon points="134.53,372.76 140.36,362.16 128.7,362.16" fill="#3aaa6a"/><polygon points="130.57,423.33 136.4,412.73 124.74,412.73" fill="#3aaa6a"/><polygon points="133.97,423.33 139.8,412.73 128.14,412.73" fill="#3aaa6a"/><polygon points="138.5,423.33 144.33,412.73 132.67,412.73" fill="#3aaa6a"/><polygon points="143.03,423.33 148.86,412.73 137.2,412.73" fill="#3aaa6a"/><polygon points="147.57,423.33 153.4,412.73 141.74,412.73" fill="#3aaa6a"/><polygon points="152.1,423.33 157.93,412.73 146.27,412.73" fill="#3aaa6a"/><polygon points="156.63,423.33 162.46,412.73 150.8,412.73" fill="#3aaa6a"/><polygon points="161.17,423.33 167,412.73 155.34,412.73" fill="#3aaa6a"/><polygon points="48.74,271.24 54.57,281.84 42.91,281.84" fill="#1f6fdf"/><polygon points="65.97,271.24 71.8,281.84 60.14,281.84" fill="#1f6fdf"/><polygon points="88.63,279.35 94.46,289.95 82.8,289.95" fill="#1f6fdf"/><polygon points="111.3,286.97 117.13,297.57 105.47,297.57" fill="#1f6fdf"/><polygon points="133.17,303.39 139,313.99 127.34,313.99" fill="#1f6fdf"/><polygon points="155.5,330.2 161.33,340.8 149.67,340.8" fill="#1f6fdf"/><polygon points="159.24,336.15 165.07,346.75 153.41,346.75" fill="#1f6fdf"/><polygon points="161.17,341.35 167,351.95 155.34,351.95" fill="#1f6fdf"/><polygon points="168.65,356.94 174.48,367.54 162.82,367.54" fill="#1f6fdf"/><polygon points="174.2,408.9 180.03,419.5 168.37,419.5" fill="#1f6fdf"/><polygon points="176.47,408.9 182.3,419.5 170.64,419.5" fill="#1f6fdf"/><polygon points="178.73,408.9 184.56,419.5 172.9,419.5" fill="#1f6fdf"/><polygon points="201.97,408.9 207.8,419.5 196.14,419.5" fill="#1f6fdf"/><circle cx="48.97" cy="265.43" r="5.2" fill="#ef3c44"/><circle cx="54.63" cy="265.78" r="5.2" fill="#ef3c44"/><circle cx="65.97" cy="265.43" r="5.2" fill="#ef3c44"/><circle cx="88.63" cy="269.24" r="5.2" fill="#ef3c44"/><circle cx="111.3" cy="277.07" r="5.2" fill="#ef3c44"/><circle cx="134.65" cy="287.25" r="5.2" fill="#ef3c44"/><circle cx="156.63" cy="301.87" r="5.2" fill="#ef3c44"/><circle cx="167.97" cy="315.8" r="5.2" fill="#ef3c44"/><circle cx="179.07" cy="327.02" r="5.2" fill="#ef3c44"/><circle cx="190.63" cy="343.02" r="5.2" fill="#ef3c44"/><circle cx="195.17" cy="359.37" r="5.2" fill="#ef3c44"/><circle cx="197.43" cy="362.91" r="5.2" fill="#ef3c44"/><circle cx="200.04" cy="370.87" r="5.2" fill="#ef3c44"/><circle cx="201.97" cy="387.29" r="5.2" fill="#ef3c44"/><circle cx="204.46" cy="408.22" r="5.2" fill="#ef3c44"/><circle cx="207.07" cy="417.5" r="5.2" fill="#ef3c44"/><circle cx="209.9" cy="417.5" r="5.2" fill="#ef3c44"/></g><text x="144.6" y="380.8" class="t" style="font-size:12.5px"><tspan font-style="italic">T</tspan><tspan style="font-size:8.2px" dy="2.8">HM</tspan></text><path d="M148.9,386.4L140.3,407.3M139.87,402.92L140.3,407.3L143.69,404.49" stroke="#111" stroke-width="1.5" fill="none" stroke-linecap="butt" stroke-linejoin="miter"/><path d="M70.8,384.2L61.6,405.9M61.21,401.52L61.6,405.9L65.02,403.13" stroke="#111" stroke-width="1.5" fill="none" stroke-linecap="butt" stroke-linejoin="miter"/><path d="M89.8,386.2L80.6,407.2M80.27,402.81L80.6,407.2L84.05,404.47" stroke="#111" stroke-width="1.5" fill="none" stroke-linecap="butt" stroke-linejoin="miter"/><path d="M187,387.3L177.7,406.5M177.53,402.1L177.7,406.5L181.25,403.9" stroke="#111" stroke-width="1.5" fill="none" stroke-linecap="butt" stroke-linejoin="miter"/>
<rect x="275" y="244.3" width="170.3" height="173.2" fill="none" stroke="#555" stroke-width="1"/><path d="M275,417.5v5M283.51,417.5v2.7M283.51,244.3v2.2M292.03,417.5v2.7M292.03,244.3v2.2M300.55,417.5v2.7M300.55,244.3v2.2M309.06,417.5v2.7M309.06,244.3v2.2M317.57,417.5v5M317.57,244.3v4M326.09,417.5v2.7M326.09,244.3v2.2M334.61,417.5v2.7M334.61,244.3v2.2M343.12,417.5v2.7M343.12,244.3v2.2M351.63,417.5v2.7M351.63,244.3v2.2M360.15,417.5v5M360.15,244.3v4M368.67,417.5v2.7M368.67,244.3v2.2M377.18,417.5v2.7M377.18,244.3v2.2M385.69,417.5v2.7M385.69,244.3v2.2M394.21,417.5v2.7M394.21,244.3v2.2M402.73,417.5v5M402.73,244.3v4M411.24,417.5v2.7M411.24,244.3v2.2M419.75,417.5v2.7M419.75,244.3v2.2M428.27,417.5v2.7M428.27,244.3v2.2M436.78,417.5v2.7M436.78,244.3v2.2M445.3,417.5v5M275,417.5h-5M275,401.75h-2.7M445.3,401.75h-2.5M275,386.01h-2.7M445.3,386.01h-2.5M275,370.26h-2.7M445.3,370.26h-2.5M275,354.52h-2.7M445.3,354.52h-2.5M275,338.77h-5M445.3,338.77h-4.5M275,323.03h-2.7M445.3,323.03h-2.5M275,307.28h-2.7M445.3,307.28h-2.5M275,291.54h-2.7M445.3,291.54h-2.5M275,275.79h-2.7M445.3,275.79h-2.5M275,260.05h-5M445.3,260.05h-4.5M275,244.3h-2.7" stroke="#555" stroke-width="1" fill="none"/><text x="275" y="436.9" text-anchor="middle" class="t">0</text><text x="317.57" y="436.9" text-anchor="middle" class="t">50</text><text x="360.15" y="436.9" text-anchor="middle" class="t">100</text><text x="402.73" y="436.9" text-anchor="middle" class="t">150</text><text x="445.3" y="436.9" text-anchor="middle" class="t">200</text><text x="265.5" y="421.7" text-anchor="end" class="t">0.0</text><text x="265.5" y="342.97" text-anchor="end" class="t">0.5</text><text x="265.5" y="264.25" text-anchor="end" class="t">1.0</text><text x="360.15" y="455" text-anchor="middle" class="t" style="font-size:13.2px"><tspan font-style="italic">T</tspan> (K)</text><text transform="translate(242.7,330.9) rotate(-90)" text-anchor="middle" class="t" style="font-size:13.85px">Total magnetic fraction</text><text x="236.7" y="250.3" class="L">e</text><g clip-path="url(#ce)"><polyline points="277.55,264.77 281.81,263.98 308.72,263.98 412.52,265.56 415.07,271.07 416.86,297.83 418.9,375.62 419.93,388.69 421.46,417.5 445.3,417.5" fill="none" stroke="#4d4d4d" stroke-width="1.5" stroke-linejoin="round"/><rect x="277.31" y="259.48" width="9" height="9" fill="#4d4d4d"/><rect x="304.22" y="259.48" width="9" height="9" fill="#4d4d4d"/><rect x="408.02" y="261.06" width="9" height="9" fill="#4d4d4d"/><rect x="410.57" y="266.57" width="9" height="9" fill="#4d4d4d"/><rect x="412.36" y="293.33" width="9" height="9" fill="#4d4d4d"/><rect x="414.4" y="371.12" width="9" height="9" fill="#4d4d4d"/><rect x="415.43" y="384.19" width="9" height="9" fill="#4d4d4d"/><rect x="419.51" y="413" width="9" height="9" fill="#4d4d4d"/><rect x="428.03" y="413" width="9" height="9" fill="#4d4d4d"/><rect x="439.95" y="413" width="9" height="9" fill="#4d4d4d"/><polyline points="275.85,365.54 277.72,369 279.94,382.07 279.94,399.71 281.81,408.05 285.22,412.78 290.75,414.98 296.29,415.93 445.3,416.71" fill="none" stroke="#1ccccc" stroke-width="1.5" stroke-linejoin="round"/><polygon points="283.55,369 272.95,363.17 272.95,374.83" fill="#1ccccc"/><polygon points="285.77,382.07 275.17,376.24 275.17,387.9" fill="#1ccccc"/><polygon points="285.77,399.71 275.17,393.88 275.17,405.54" fill="#1ccccc"/><polygon points="287.64,408.05 277.04,402.22 277.04,413.88" fill="#1ccccc"/><polygon points="291.05,412.78 280.45,406.95 280.45,418.61" fill="#1ccccc"/><polygon points="296.58,414.98 285.98,409.15 285.98,420.81" fill="#1ccccc"/><polyline points="275.43,387.58 276.87,390.73 276.87,397.03 277.13,403.33 277.38,409.63 277.55,414.35 279.26,417.5 283.51,417.5" fill="none" stroke="#774a4a" stroke-width="1.5" stroke-linejoin="round"/><polygon points="276.87,384.73 271.68,387.73 271.68,393.73 276.87,396.73 282.07,393.73 282.07,387.73" fill="#774a4a"/><polygon points="276.87,391.03 271.68,394.03 271.68,400.03 276.87,403.03 282.07,400.03 282.07,394.03" fill="#774a4a"/><polygon points="277.13,397.33 271.93,400.33 271.93,406.33 277.13,409.33 282.32,406.33 282.32,400.33" fill="#774a4a"/><polygon points="277.38,403.63 272.19,406.63 272.19,412.63 277.38,415.63 282.58,412.63 282.58,406.63" fill="#774a4a"/><polygon points="277.55,408.35 272.36,411.35 272.36,417.35 277.55,420.35 282.75,417.35 282.75,411.35" fill="#774a4a"/><polyline points="275.85,271.07 277.55,277.37 277.55,283.66 277.98,291.54 278.83,297.05 280.96,301.77 283.09,323.03 284.88,354.83 288.45,403.96 290.33,412.78 293.73,415.93 326.09,416.71" fill="none" stroke="#cc9600" stroke-width="1.5" stroke-linejoin="round"/><polygon points="271.72,277.37 282.32,271.54 282.32,283.2" fill="#cc9600"/><polygon points="271.72,283.66 282.32,277.83 282.32,289.49" fill="#cc9600"/><polygon points="272.15,291.54 282.75,285.71 282.75,297.37" fill="#cc9600"/><polygon points="273,297.05 283.6,291.22 283.6,302.88" fill="#cc9600"/><polygon points="275.13,301.77 285.73,295.94 285.73,307.6" fill="#cc9600"/><polygon points="277.26,323.03 287.86,317.2 287.86,328.86" fill="#cc9600"/><polygon points="279.05,354.83 289.65,349 289.65,360.66" fill="#cc9600"/><polygon points="282.62,403.96 293.22,398.13 293.22,409.79" fill="#cc9600"/><polygon points="284.5,412.78 295.1,406.95 295.1,418.61" fill="#cc9600"/><polyline points="276.7,261.62 278.92,267.29 283.69,279.41 288.62,291.54 292.54,298.78 296.03,310.9 300.29,325.07 301.82,340.5 303.95,353.73 304.97,362.55 307.19,380.97 308.21,385.38 309.4,398.61 311.61,406.16 316.98,411.67 324.64,413.88 334.61,414.98 360.15,415.93 445.3,416.71" fill="none" stroke="#b07edd" stroke-width="1.5" stroke-linejoin="round"/><polygon points="276.7,255.62 282.7,261.62 276.7,267.62 270.7,261.62" fill="#b07edd"/><polygon points="278.92,261.29 284.92,267.29 278.92,273.29 272.92,267.29" fill="#b07edd"/><polygon points="283.69,273.41 289.69,279.41 283.69,285.41 277.69,279.41" fill="#b07edd"/><polygon points="288.62,285.54 294.62,291.54 288.62,297.54 282.62,291.54" fill="#b07edd"/><polygon points="292.54,292.78 298.54,298.78 292.54,304.78 286.54,298.78" fill="#b07edd"/><polygon points="296.03,304.9 302.03,310.9 296.03,316.9 290.03,310.9" fill="#b07edd"/><polygon points="300.29,319.07 306.29,325.07 300.29,331.07 294.29,325.07" fill="#b07edd"/><polygon points="301.82,334.5 307.82,340.5 301.82,346.5 295.82,340.5" fill="#b07edd"/><polygon points="303.95,347.73 309.95,353.73 303.95,359.73 297.95,353.73" fill="#b07edd"/><polygon points="304.97,356.55 310.97,362.55 304.97,368.55 298.97,362.55" fill="#b07edd"/><polygon points="307.19,374.97 313.19,380.97 307.19,386.97 301.19,380.97" fill="#b07edd"/><polygon points="308.21,379.38 314.21,385.38 308.21,391.38 302.21,385.38" fill="#b07edd"/><polygon points="309.4,392.61 315.4,398.61 309.4,404.61 303.4,398.61" fill="#b07edd"/><polygon points="311.61,400.16 317.61,406.16 311.61,412.16 305.61,406.16" fill="#b07edd"/><polygon points="316.98,405.67 322.98,411.67 316.98,417.67 310.98,411.67" fill="#b07edd"/><polygon points="324.64,407.88 330.64,413.88 324.64,419.88 318.64,413.88" fill="#b07edd"/><polygon points="334.61,408.98 340.61,414.98 334.61,420.98 328.61,414.98" fill="#b07edd"/><polyline points="277.55,266.34 283,266.03 292.63,266.03 301.23,270.12 309.15,271.85 316.89,268.39 322.17,272.8 327.45,275.79 329.92,281.14 332.05,285.24 333.92,287.91 335.88,291.85 336.73,296.26 337.84,299.72 338.86,305.71 339.54,315.47 339.97,322.08 340.4,326.18 341.08,335.15 341.08,348.22 343.12,359.24 345.33,373.41 346.1,387.58 348.65,400.81 351.98,409.63 355.89,414.35 360.15,415.61 377.18,416.24 445.3,416.71" fill="none" stroke="#3aaa6a" stroke-width="1.5" stroke-linejoin="round"/><polygon points="283,271.86 288.83,261.26 277.17,261.26" fill="#3aaa6a"/><polygon points="292.63,271.86 298.46,261.26 286.8,261.26" fill="#3aaa6a"/><polygon points="301.23,275.95 307.06,265.35 295.4,265.35" fill="#3aaa6a"/><polygon points="309.15,277.68 314.98,267.08 303.32,267.08" fill="#3aaa6a"/><polygon points="316.89,274.22 322.72,263.62 311.06,263.62" fill="#3aaa6a"/><polygon points="322.17,278.63 328,268.03 316.34,268.03" fill="#3aaa6a"/><polygon points="327.45,281.62 333.28,271.02 321.62,271.02" fill="#3aaa6a"/><polygon points="329.92,286.97 335.75,276.37 324.09,276.37" fill="#3aaa6a"/><polygon points="332.05,291.07 337.88,280.47 326.22,280.47" fill="#3aaa6a"/><polygon points="333.92,293.74 339.75,283.14 328.09,283.14" fill="#3aaa6a"/><polygon points="335.88,297.68 341.71,287.08 330.05,287.08" fill="#3aaa6a"/><polygon points="336.73,302.09 342.56,291.49 330.9,291.49" fill="#3aaa6a"/><polygon points="337.84,305.55 343.67,294.95 332.01,294.95" fill="#3aaa6a"/><polygon points="338.86,311.54 344.69,300.94 333.03,300.94" fill="#3aaa6a"/><polygon points="339.54,321.3 345.37,310.7 333.71,310.7" fill="#3aaa6a"/><polygon points="339.97,327.91 345.8,317.31 334.14,317.31" fill="#3aaa6a"/><polygon points="340.4,332.01 346.23,321.41 334.57,321.41" fill="#3aaa6a"/><polygon points="341.08,340.98 346.91,330.38 335.25,330.38" fill="#3aaa6a"/><polygon points="341.08,354.05 346.91,343.45 335.25,343.45" fill="#3aaa6a"/><polygon points="343.12,365.07 348.95,354.47 337.29,354.47" fill="#3aaa6a"/><polygon points="345.33,379.24 351.16,368.64 339.5,368.64" fill="#3aaa6a"/><polygon points="346.1,393.41 351.93,382.81 340.27,382.81" fill="#3aaa6a"/><polygon points="348.65,406.64 354.48,396.04 342.82,396.04" fill="#3aaa6a"/><polygon points="351.98,415.46 357.81,404.86 346.15,404.86" fill="#3aaa6a"/><polygon points="355.89,420.18 361.72,409.58 350.06,409.58" fill="#3aaa6a"/><polygon points="360.15,421.44 365.98,410.84 354.32,410.84" fill="#3aaa6a"/><polyline points="277.55,267.92 316.98,268.86 376.67,267.13 388.25,266.34 391.14,274.85 392.25,281.46 393.19,297.83 394.21,309.49 395.91,335.62 396.34,354.52 396.76,369 398.04,386.48 399.83,407.27 402.47,413.88 445.3,415.93" fill="none" stroke="#ef3c44" stroke-width="1.5" stroke-linejoin="round"/><circle cx="316.98" cy="268.86" r="5.2" fill="#ef3c44"/><circle cx="362.7" cy="263.98" r="5.2" fill="#ef3c44"/><circle cx="376.67" cy="267.13" r="5.2" fill="#ef3c44"/><circle cx="383.31" cy="270.91" r="5.2" fill="#ef3c44"/><circle cx="388.25" cy="264.3" r="5.2" fill="#ef3c44"/><circle cx="391.14" cy="274.85" r="5.2" fill="#ef3c44"/><circle cx="392.25" cy="281.46" r="5.2" fill="#ef3c44"/><circle cx="393.19" cy="297.83" r="5.2" fill="#ef3c44"/><circle cx="393.61" cy="301.77" r="5.2" fill="#ef3c44"/><circle cx="394.21" cy="309.49" r="5.2" fill="#ef3c44"/><circle cx="395.91" cy="335.62" r="5.2" fill="#ef3c44"/><circle cx="396.34" cy="354.52" r="5.2" fill="#ef3c44"/><circle cx="396.76" cy="369" r="5.2" fill="#ef3c44"/><circle cx="398.04" cy="386.48" r="5.2" fill="#ef3c44"/><circle cx="399.83" cy="407.27" r="5.2" fill="#ef3c44"/><circle cx="402.47" cy="413.88" r="5.2" fill="#ef3c44"/><circle cx="405.28" cy="415.93" r="5.2" fill="#ef3c44"/><polyline points="277.55,267.13 360.15,267.13 366.11,267.13 369.43,274.85 371.65,288.86 373.26,306.65 374.63,326.18 376.33,336.25 378.46,371.21 380.59,395.3 382.8,407.27 385.69,415.93 445.3,416.71" fill="none" stroke="#1f6fdf" stroke-width="1.5" stroke-linejoin="round"/><polygon points="279.43,258.15 285.26,268.75 273.6,268.75" fill="#1f6fdf"/><polygon points="291.6,259.73 297.43,270.33 285.77,270.33" fill="#1f6fdf"/><polygon points="308.72,258.15 314.55,268.75 302.89,268.75" fill="#1f6fdf"/><polygon points="325.41,259.25 331.24,269.85 319.58,269.85" fill="#1f6fdf"/><polygon points="342.27,259.25 348.1,269.85 336.44,269.85" fill="#1f6fdf"/><polygon points="351.29,262.56 357.12,273.16 345.46,273.16" fill="#1f6fdf"/><polygon points="354.62,257.68 360.45,268.28 348.79,268.28" fill="#1f6fdf"/><polygon points="358.53,266.81 364.36,277.41 352.7,277.41" fill="#1f6fdf"/><polygon points="363.47,257.68 369.3,268.28 357.64,268.28" fill="#1f6fdf"/><polygon points="365.17,269.02 371,279.62 359.34,279.62" fill="#1f6fdf"/><polygon points="366.37,257.68 372.2,268.28 360.54,268.28" fill="#1f6fdf"/><polygon points="369.43,269.02 375.26,279.62 363.6,279.62" fill="#1f6fdf"/><polygon points="371.65,283.03 377.48,293.63 365.82,293.63" fill="#1f6fdf"/><polygon points="373.26,300.82 379.09,311.42 367.43,311.42" fill="#1f6fdf"/><polygon points="374.63,320.35 380.46,330.95 368.8,330.95" fill="#1f6fdf"/><polygon points="376.33,330.42 382.16,341.02 370.5,341.02" fill="#1f6fdf"/><polygon points="378.46,365.38 384.29,375.98 372.63,375.98" fill="#1f6fdf"/><polygon points="380.59,389.47 386.42,400.07 374.76,400.07" fill="#1f6fdf"/><polygon points="382.8,401.44 388.63,412.04 376.97,412.04" fill="#1f6fdf"/><polygon points="385.69,410.1 391.52,420.7 379.87,420.7" fill="#1f6fdf"/><polygon points="394.21,410.88 400.04,421.48 388.38,421.48" fill="#1f6fdf"/><polygon points="445.3,410.1 451.13,420.7 439.47,420.7" fill="#1f6fdf"/><polyline points="394.04,266.34 401.87,265.24 405.96,273.11 407.83,279.73 408.94,285.24 411.15,320.98 413.37,371.84 415.5,412.78 418.05,414.35 421.46,415.14 428.27,415.93 436.78,415.93 444.45,415.93 445.3,415.93" fill="none" stroke="#66a61e" stroke-width="1.5" stroke-linejoin="round"/><polygon points="394.04,260.34 388.84,263.34 388.84,269.34 394.04,272.34 399.24,269.34 399.24,263.34" fill="#66a61e"/><polygon points="401.87,259.24 396.68,262.24 396.68,268.24 401.87,271.24 407.07,268.24 407.07,262.24" fill="#66a61e"/><polygon points="405.96,267.11 400.76,270.11 400.76,276.11 405.96,279.11 411.16,276.11 411.16,270.11" fill="#66a61e"/><polygon points="407.83,273.73 402.64,276.73 402.64,282.73 407.83,285.73 413.03,282.73 413.03,276.73" fill="#66a61e"/><polygon points="408.94,279.24 403.74,282.24 403.74,288.24 408.94,291.24 414.14,288.24 414.14,282.24" fill="#66a61e"/><polygon points="411.15,314.98 405.96,317.98 405.96,323.98 411.15,326.98 416.35,323.98 416.35,317.98" fill="#66a61e"/><polygon points="413.37,365.84 408.17,368.84 408.17,374.84 413.37,377.84 418.56,374.84 418.56,368.84" fill="#66a61e"/><polygon points="415.5,406.78 410.3,409.78 410.3,415.78 415.5,418.78 420.69,415.78 420.69,409.78" fill="#66a61e"/><polygon points="418.05,408.35 412.86,411.35 412.86,417.35 418.05,420.35 423.25,417.35 423.25,411.35" fill="#66a61e"/><polygon points="421.46,409.14 416.26,412.14 416.26,418.14 421.46,421.14 426.65,418.14 426.65,412.14" fill="#66a61e"/><polygon points="428.27,409.93 423.07,412.93 423.07,418.93 428.27,421.93 433.47,418.93 433.47,412.93" fill="#66a61e"/><polygon points="436.78,409.93 431.59,412.93 431.59,418.93 436.78,421.93 441.98,418.93 441.98,412.93" fill="#66a61e"/><polygon points="444.45,409.93 439.25,412.93 439.25,418.93 444.45,421.93 449.64,418.93 449.64,412.93" fill="#66a61e"/><polyline points="417.8,264.3 420.01,323.03 422.05,362.55 423.16,380.66 425.72,408.05 428.7,412.78 436.27,413.88 445.3,414.35" fill="none" stroke="#ff7f00" stroke-width="1.5" stroke-linejoin="round"/><polygon points="417.8,257.8 424.3,264.3 417.8,270.8 411.3,264.3" fill="#ff7f00"/><polygon points="422.05,356.05 428.55,362.55 422.05,369.05 415.55,362.55" fill="#ff7f00"/><polygon points="423.16,374.16 429.66,380.66 423.16,387.16 416.66,380.66" fill="#ff7f00"/><polygon points="428.7,406.28 435.2,412.78 428.7,419.28 422.2,412.78" fill="#ff7f00"/><polygon points="436.27,407.38 442.77,413.88 436.27,420.38 429.77,413.88" fill="#ff7f00"/><polygon points="418.48,258.27 424.98,264.77 418.48,271.27 411.98,264.77" fill="#ff7f00"/><line x1="275.3" y1="339.07" x2="445.3" y2="339.07" stroke="#1a1a1a" stroke-width="1.3" stroke-dasharray="4.9,3.4"/></g><text x="311.3" y="306.8" class="t" style="font-size:12.5px"><tspan font-style="italic">T</tspan><tspan style="font-size:8.2px" dy="2.8">HM</tspan></text><text x="423.7" y="306.8" class="t" style="font-size:12.5px"><tspan font-style="italic">T</tspan><tspan style="font-size:8.2px" dy="2.8">FM</tspan></text><path d="M318.7,315.5L309.3,335.7M309.07,331.31L309.3,335.7L312.81,333.05" stroke="#111" stroke-width="1.5" fill="none" stroke-linecap="butt" stroke-linejoin="miter"/><path d="M434.5,315L425.3,335.7M424.99,331.31L425.3,335.7L428.77,332.99" stroke="#111" stroke-width="1.5" fill="none" stroke-linecap="butt" stroke-linejoin="miter"/>
<rect x="505" y="244.3" width="170.3" height="173.2" fill="none" stroke="#555" stroke-width="1"/><path d="M505,417.5v5M516.35,417.5v2.7M516.35,244.3v2.2M527.71,417.5v2.7M527.71,244.3v2.2M539.06,417.5v2.7M539.06,244.3v2.2M550.41,417.5v2.7M550.41,244.3v2.2M561.77,417.5v5M561.77,244.3v4M573.12,417.5v2.7M573.12,244.3v2.2M584.47,417.5v2.7M584.47,244.3v2.2M595.83,417.5v2.7M595.83,244.3v2.2M607.18,417.5v2.7M607.18,244.3v2.2M618.53,417.5v5M618.53,244.3v4M629.89,417.5v2.7M629.89,244.3v2.2M641.24,417.5v2.7M641.24,244.3v2.2M652.59,417.5v2.7M652.59,244.3v2.2M663.95,417.5v2.7M663.95,244.3v2.2M675.3,417.5v5M505,417.5h-5M505,405.95h-2.7M505,394.41h-2.7M505,382.86h-2.7M505,371.31h-2.7M505,359.77h-5M505,348.22h-2.7M505,336.67h-2.7M505,325.13h-2.7M505,313.58h-2.7M505,302.03h-5M505,290.49h-2.7M505,278.94h-2.7M505,267.39h-2.7M505,255.85h-2.7M505,244.3h-5M675.3,409.63h-2.5M675.3,401.76h-2.5M675.3,393.89h-2.5M675.3,386.02h-2.5M675.3,378.15h-4.5M675.3,370.28h-2.5M675.3,362.41h-2.5M675.3,354.54h-2.5M675.3,346.67h-2.5M675.3,338.8h-4.5M675.3,330.93h-2.5M675.3,323.06h-2.5M675.3,315.19h-2.5M675.3,307.32h-2.5M675.3,299.45h-4.5M675.3,291.58h-2.5M675.3,283.71h-2.5M675.3,275.84h-2.5M675.3,267.97h-2.5M675.3,260.1h-4.5M675.3,252.23h-2.5" stroke="#555" stroke-width="1" fill="none"/><text x="505" y="436.9" text-anchor="middle" class="t">0</text><text x="561.77" y="436.9" text-anchor="middle" class="t">50</text><text x="618.53" y="436.9" text-anchor="middle" class="t">100</text><text x="675.3" y="436.9" text-anchor="middle" class="t">150</text><text x="495.5" y="421.7" text-anchor="end" class="t">0</text><text x="495.5" y="363.97" text-anchor="end" class="t">20</text><text x="495.5" y="306.23" text-anchor="end" class="t">40</text><text x="495.5" y="248.5" text-anchor="end" class="t">60</text><text x="590.15" y="455" text-anchor="middle" class="t" style="font-size:13.2px"><tspan font-style="italic">T</tspan> (K)</text><text transform="translate(475,330.9) rotate(-90)" text-anchor="middle" class="t" style="font-size:13.7px">Relaxation rate, <tspan font-style="italic">λ</tspan><tspan style="font-size:8.2px" dy="2.6">T,HM</tspan><tspan dy="-2.6"> (µs</tspan><tspan style="font-size:8.2px" dy="-4.5">-1</tspan><tspan dy="4.5">)</tspan></text><text x="467.5" y="251" class="L">f</text><g clip-path="url(#cf)"><polyline points="506.59,355.15 507.95,353.7 509.54,358.61 510.11,388.63 510.68,411.73 516.35,413.17 522.03,414.04" fill="none" stroke="#1ccccc" stroke-width="1.5" stroke-linejoin="round"/><line x1="507.95" y1="360.92" x2="507.95" y2="346.49" stroke="#1ccccc" stroke-width="1.3"/><line x1="509.54" y1="365.83" x2="509.54" y2="351.4" stroke="#1ccccc" stroke-width="1.3"/><polygon points="512.42,355.15 501.82,349.32 501.82,360.98" fill="#1ccccc"/><polygon points="513.78,353.7 503.18,347.87 503.18,359.53" fill="#1ccccc"/><polygon points="515.37,358.61 504.77,352.78 504.77,364.44" fill="#1ccccc"/><polygon points="513.78,412.59 503.18,406.76 503.18,418.42" fill="#1ccccc"/><polygon points="517.41,412.3 506.81,406.47 506.81,418.13" fill="#1ccccc"/><line x1="507.84" y1="314.16" x2="507.84" y2="291.06" stroke="#cc9600" stroke-width="1.3"/><line x1="509.54" y1="319.06" x2="509.54" y2="293.08" stroke="#cc9600" stroke-width="1.3"/><line x1="511.81" y1="319.35" x2="511.81" y2="299.15" stroke="#cc9600" stroke-width="1.3"/><line x1="514.76" y1="319.64" x2="514.76" y2="302.32" stroke="#cc9600" stroke-width="1.3"/><line x1="516.13" y1="355.73" x2="516.13" y2="338.41" stroke="#cc9600" stroke-width="1.3"/><line x1="518.06" y1="357.17" x2="518.06" y2="339.85" stroke="#cc9600" stroke-width="1.3"/><polyline points="506.14,300.59 507.84,302.61 509.54,306.07 511.81,309.25 514.76,310.98 516.13,347.07 518.06,348.51 519.42,381.42 522.94,414.04 525.44,415.19 529.98,415.77 533.38,416.06" fill="none" stroke="#cc9600" stroke-width="1.5" stroke-linejoin="round"/><polygon points="500.31,300.59 510.91,294.76 510.91,306.42" fill="#cc9600"/><polygon points="502.01,302.61 512.61,296.78 512.61,308.44" fill="#cc9600"/><polygon points="503.71,306.07 514.31,300.24 514.31,311.9" fill="#cc9600"/><polygon points="505.98,309.25 516.58,303.42 516.58,315.08" fill="#cc9600"/><polygon points="508.93,310.98 519.53,305.15 519.53,316.81" fill="#cc9600"/><polygon points="510.3,347.07 520.9,341.24 520.9,352.9" fill="#cc9600"/><polygon points="512.23,348.51 522.83,342.68 522.83,354.34" fill="#cc9600"/><polygon points="513.59,381.42 524.19,375.59 524.19,387.25" fill="#cc9600"/><polygon points="517.11,414.04 527.71,408.21 527.71,419.87" fill="#cc9600"/><polygon points="519.61,415.19 530.21,409.36 530.21,421.02" fill="#cc9600"/><polygon points="524.15,415.77 534.75,409.94 534.75,421.6" fill="#cc9600"/><line x1="511.24" y1="302.9" x2="511.24" y2="279.81" stroke="#b07edd" stroke-width="1.3"/><line x1="514.76" y1="308.67" x2="514.76" y2="276.92" stroke="#b07edd" stroke-width="1.3"/><line x1="519.42" y1="332.63" x2="519.42" y2="315.31" stroke="#b07edd" stroke-width="1.3"/><line x1="530.89" y1="340.43" x2="530.89" y2="317.33" stroke="#b07edd" stroke-width="1.3"/><line x1="540.65" y1="358.61" x2="540.65" y2="335.52" stroke="#b07edd" stroke-width="1.3"/><line x1="535.77" y1="375.35" x2="535.77" y2="358.03" stroke="#b07edd" stroke-width="1.3"/><line x1="527.59" y1="357.46" x2="527.59" y2="340.14" stroke="#b07edd" stroke-width="1.3"/><polyline points="511.24,291.35 514.76,292.8 517.83,302.9 519.42,323.97 527.59,348.8 530.89,328.88 535.77,366.69 540.65,347.07 543.03,392.96 544.74,416.63 584.47,416.63" fill="none" stroke="#b07edd" stroke-width="1.5" stroke-linejoin="round"/><polygon points="511.24,285.35 517.24,291.35 511.24,297.35 505.24,291.35" fill="#b07edd"/><polygon points="514.76,286.8 520.76,292.8 514.76,298.8 508.76,292.8" fill="#b07edd"/><polygon points="517.83,296.9 523.83,302.9 517.83,308.9 511.83,302.9" fill="#b07edd"/><polygon points="519.42,317.97 525.42,323.97 519.42,329.97 513.42,323.97" fill="#b07edd"/><polygon points="527.59,342.8 533.59,348.8 527.59,354.8 521.59,348.8" fill="#b07edd"/><polygon points="530.89,322.88 536.89,328.88 530.89,334.88 524.89,328.88" fill="#b07edd"/><polygon points="535.77,360.69 541.77,366.69 535.77,372.69 529.77,366.69" fill="#b07edd"/><polygon points="540.65,341.07 546.65,347.07 540.65,353.07 534.65,347.07" fill="#b07edd"/><polygon points="543.03,386.96 549.03,392.96 543.03,398.96 537.03,392.96" fill="#b07edd"/><polygon points="545.87,411.5 551.87,417.5 545.87,423.5 539.87,417.5" fill="#b07edd"/><polygon points="559.5,411.5 565.5,417.5 559.5,423.5 553.5,417.5" fill="#b07edd"/><polygon points="574.26,411.5 580.26,417.5 574.26,423.5 568.26,417.5" fill="#b07edd"/><line x1="513.17" y1="357.17" x2="513.17" y2="339.85" stroke="#3aaa6a" stroke-width="1.3"/><line x1="561.43" y1="355.73" x2="561.43" y2="338.41" stroke="#3aaa6a" stroke-width="1.3"/><line x1="571.98" y1="360.63" x2="571.98" y2="343.31" stroke="#3aaa6a" stroke-width="1.3"/><line x1="576.87" y1="376.8" x2="576.87" y2="353.7" stroke="#3aaa6a" stroke-width="1.3"/><line x1="580.5" y1="372.47" x2="580.5" y2="343.6" stroke="#3aaa6a" stroke-width="1.3"/><line x1="582.88" y1="355.15" x2="582.88" y2="332.05" stroke="#3aaa6a" stroke-width="1.3"/><line x1="586.4" y1="355.15" x2="586.4" y2="332.05" stroke="#3aaa6a" stroke-width="1.3"/><line x1="588.9" y1="358.61" x2="588.9" y2="323.97" stroke="#3aaa6a" stroke-width="1.3"/><line x1="590.04" y1="386.04" x2="590.04" y2="339.85" stroke="#3aaa6a" stroke-width="1.3"/><line x1="592.42" y1="391.52" x2="592.42" y2="356.88" stroke="#3aaa6a" stroke-width="1.3"/><line x1="594.8" y1="398.45" x2="594.8" y2="375.35" stroke="#3aaa6a" stroke-width="1.3"/><polyline points="513.17,348.51 516.13,347.07 535.77,353.7 550.41,360.34 561.43,347.07 562.45,348.51 571.98,351.97 575.39,355.15 576.87,365.25 580.5,358.03 582.88,343.6 586.4,343.6 588.9,341.29 590.04,362.94 591.29,353.99 592.42,374.2 594.8,386.9 598.44,395.27 600.82,409.71 603.21,412.02 612.86,414.04 623.64,414.61" fill="none" stroke="#3aaa6a" stroke-width="1.5" stroke-linejoin="round"/><polygon points="513.17,354.34 519,343.74 507.34,343.74" fill="#3aaa6a"/><polygon points="516.13,352.9 521.96,342.3 510.3,342.3" fill="#3aaa6a"/><polygon points="535.77,359.53 541.6,348.93 529.94,348.93" fill="#3aaa6a"/><polygon points="550.41,366.17 556.24,355.57 544.58,355.57" fill="#3aaa6a"/><polygon points="561.43,352.9 567.26,342.3 555.6,342.3" fill="#3aaa6a"/><polygon points="562.45,354.34 568.28,343.74 556.62,343.74" fill="#3aaa6a"/><polygon points="571.98,357.8 577.81,347.2 566.15,347.2" fill="#3aaa6a"/><polygon points="575.39,360.98 581.22,350.38 569.56,350.38" fill="#3aaa6a"/><polygon points="576.87,371.08 582.7,360.48 571.04,360.48" fill="#3aaa6a"/><polygon points="580.5,363.86 586.33,353.26 574.67,353.26" fill="#3aaa6a"/><polygon points="582.88,349.43 588.71,338.83 577.05,338.83" fill="#3aaa6a"/><polygon points="586.4,349.43 592.23,338.83 580.57,338.83" fill="#3aaa6a"/><polygon points="588.9,347.12 594.73,336.52 583.07,336.52" fill="#3aaa6a"/><polygon points="590.04,368.77 595.87,358.17 584.21,358.17" fill="#3aaa6a"/><polygon points="591.29,359.82 597.12,349.22 585.46,349.22" fill="#3aaa6a"/><polygon points="592.42,380.03 598.25,369.43 586.59,369.43" fill="#3aaa6a"/><polygon points="594.8,392.73 600.63,382.13 588.97,382.13" fill="#3aaa6a"/><polygon points="598.44,401.1 604.27,390.5 592.61,390.5" fill="#3aaa6a"/><polygon points="600.82,415.54 606.65,404.94 594.99,404.94" fill="#3aaa6a"/><polygon points="603.21,417.85 609.04,407.25 597.38,407.25" fill="#3aaa6a"/><polygon points="607.18,420.44 613.01,409.84 601.35,409.84" fill="#3aaa6a"/><polygon points="612.86,421.02 618.69,410.42 607.03,410.42" fill="#3aaa6a"/><polygon points="618.53,421.02 624.36,410.42 612.7,410.42" fill="#3aaa6a"/><polygon points="623.07,421.02 628.9,410.42 617.24,410.42" fill="#3aaa6a"/><polyline points="507.95,388.06 512.83,386.32 527.59,384.01 550.41,384.01 573.12,386.9 617.63,385.75 629.66,385.75 641.58,384.3 652.48,381.99 658.38,379.68 662.02,377.09 663.15,389.21 664.4,395.27 666.22,403.64 670.53,414.32 673.03,414.61 675.3,414.61" fill="none" stroke="#ef3c44" stroke-width="1.5" stroke-linejoin="round"/><circle cx="507.95" cy="388.06" r="5.2" fill="#ef3c44"/><circle cx="512.83" cy="386.32" r="5.2" fill="#ef3c44"/><circle cx="527.59" cy="384.01" r="5.2" fill="#ef3c44"/><circle cx="550.41" cy="384.01" r="5.2" fill="#ef3c44"/><circle cx="573.12" cy="386.9" r="5.2" fill="#ef3c44"/><circle cx="617.63" cy="385.75" r="5.2" fill="#ef3c44"/><circle cx="629.66" cy="385.75" r="5.2" fill="#ef3c44"/><circle cx="641.58" cy="384.3" r="5.2" fill="#ef3c44"/><circle cx="652.48" cy="381.99" r="5.2" fill="#ef3c44"/><circle cx="658.38" cy="379.68" r="5.2" fill="#ef3c44"/><circle cx="662.02" cy="377.09" r="5.2" fill="#ef3c44"/><circle cx="663.15" cy="389.21" r="5.2" fill="#ef3c44"/><circle cx="664.4" cy="395.27" r="5.2" fill="#ef3c44"/><circle cx="666.22" cy="403.64" r="5.2" fill="#ef3c44"/><circle cx="670.53" cy="414.32" r="5.2" fill="#ef3c44"/><circle cx="673.03" cy="414.61" r="5.2" fill="#ef3c44"/><line x1="620.01" y1="378.53" x2="620.01" y2="364.1" stroke="#1f6fdf" stroke-width="1.3"/><line x1="627.62" y1="382.86" x2="627.62" y2="365.54" stroke="#1f6fdf" stroke-width="1.3"/><line x1="630.79" y1="377.95" x2="630.79" y2="354.86" stroke="#1f6fdf" stroke-width="1.3"/><line x1="632.16" y1="395.85" x2="632.16" y2="351.11" stroke="#1f6fdf" stroke-width="1.3"/><line x1="634.43" y1="390.65" x2="634.43" y2="373.33" stroke="#1f6fdf" stroke-width="1.3"/><polyline points="509.54,371.6 527.59,366.69 550.41,371.6 573.12,375.93 595.83,378.53 620.01,371.31 621.94,375.64 624.78,380.84 627.62,374.2 630.79,366.41 632.16,375.64 634.43,381.99 636.7,377.09 640.45,413.17 663.27,413.17 675.3,414.04" fill="none" stroke="#1f6fdf" stroke-width="1.5" stroke-linejoin="round"/><polygon points="509.54,365.77 515.37,376.37 503.71,376.37" fill="#1f6fdf"/><polygon points="527.59,360.86 533.42,371.46 521.76,371.46" fill="#1f6fdf"/><polygon points="550.41,365.77 556.24,376.37 544.58,376.37" fill="#1f6fdf"/><polygon points="573.12,370.1 578.95,380.7 567.29,380.7" fill="#1f6fdf"/><polygon points="595.83,372.7 601.66,383.3 590,383.3" fill="#1f6fdf"/><polygon points="620.01,365.48 625.84,376.08 614.18,376.08" fill="#1f6fdf"/><polygon points="621.94,369.81 627.77,380.41 616.11,380.41" fill="#1f6fdf"/><polygon points="624.78,375.01 630.61,385.61 618.95,385.61" fill="#1f6fdf"/><polygon points="627.62,368.37 633.45,378.97 621.79,378.97" fill="#1f6fdf"/><polygon points="630.79,360.58 636.62,371.18 624.96,371.18" fill="#1f6fdf"/><polygon points="632.16,369.81 637.99,380.41 626.33,380.41" fill="#1f6fdf"/><polygon points="634.43,376.16 640.26,386.76 628.6,386.76" fill="#1f6fdf"/><polygon points="636.7,371.26 642.53,381.86 630.87,381.86" fill="#1f6fdf"/><polygon points="640.45,407.34 646.28,417.94 634.62,417.94" fill="#1f6fdf"/><polygon points="663.27,407.34 669.1,417.94 657.44,417.94" fill="#1f6fdf"/></g><line x1="548.2" y1="255.2" x2="571.7" y2="255.2" stroke="#ff7f00" stroke-width="1.5"/><polygon points="560,249 566.2,255.2 560,261.4 553.8,255.2" fill="#ff7f00"/><text x="573.8" y="258.7" class="t" style="font-size:10.1px"><tspan font-style="italic">x</tspan> = 0</text><line x1="548.2" y1="267.9" x2="571.7" y2="267.9" stroke="#4d4d4d" stroke-width="1.5"/><rect x="555.5" y="263.4" width="9" height="9" fill="#4d4d4d"/><text x="573.8" y="271.4" class="t" style="font-size:10.1px"><tspan font-style="italic">x</tspan> = 0.1</text><line x1="548.2" y1="280.6" x2="571.7" y2="280.6" stroke="#66a61e" stroke-width="1.5"/><polygon points="560,274.6 554.8,277.6 554.8,283.6 560,286.6 565.2,283.6 565.2,277.6" fill="#66a61e"/><text x="573.8" y="284.1" class="t" style="font-size:10.1px"><tspan font-style="italic">x</tspan> = 0.15</text><line x1="548.2" y1="293.3" x2="571.7" y2="293.3" stroke="#ef3c44" stroke-width="1.5"/><circle cx="560" cy="293.3" r="5.2" fill="#ef3c44"/><text x="573.8" y="296.8" class="t" style="font-size:10.1px"><tspan font-style="italic">x</tspan> = 0.3</text><line x1="548.2" y1="306" x2="571.7" y2="306" stroke="#1f6fdf" stroke-width="1.5"/><polygon points="560,300.17 565.83,310.77 554.17,310.77" fill="#1f6fdf"/><text x="573.8" y="309.5" class="t" style="font-size:10.1px"><tspan font-style="italic">x</tspan> = 0.4</text><line x1="608.3" y1="255.2" x2="632.2" y2="255.2" stroke="#3aaa6a" stroke-width="1.5"/><polygon points="620.3,261.03 626.13,250.43 614.47,250.43" fill="#3aaa6a"/><text x="634.1" y="258.7" class="t" style="font-size:10.1px"><tspan font-style="italic">x</tspan> = 0.6</text><line x1="613.8" y1="267.9" x2="637.7" y2="267.9" stroke="#b07edd" stroke-width="1.5"/><polygon points="625.8,261.7 632,267.9 625.8,274.1 619.6,267.9" fill="#b07edd"/><text x="639.6" y="271.4" class="t" style="font-size:10.1px"><tspan font-style="italic">x</tspan> = 0.8</text><line x1="613.8" y1="280.6" x2="637.7" y2="280.6" stroke="#cc9600" stroke-width="1.5"/><polygon points="619.97,280.6 630.57,274.77 630.57,286.43" fill="#cc9600"/><text x="639.6" y="284.1" class="t" style="font-size:10.1px"><tspan font-style="italic">x</tspan> = 0.9</text><line x1="613.8" y1="293.3" x2="637.7" y2="293.3" stroke="#1ccccc" stroke-width="1.5"/><polygon points="631.63,293.3 621.03,287.47 621.03,299.13" fill="#1ccccc"/><text x="639.6" y="296.8" class="t" style="font-size:10.1px"><tspan font-style="italic">x</tspan> = 1.0</text><line x1="613.8" y1="306" x2="637.7" y2="306" stroke="#774a4a" stroke-width="1.5"/><polygon points="625.8,300 620.6,303 620.6,309 625.8,312 631,309 631,303" fill="#774a4a"/><text x="639.6" y="309.5" class="t" style="font-size:10.1px"><tspan font-style="italic">x</tspan> = 1.1</text>
</svg>
</body></html>
